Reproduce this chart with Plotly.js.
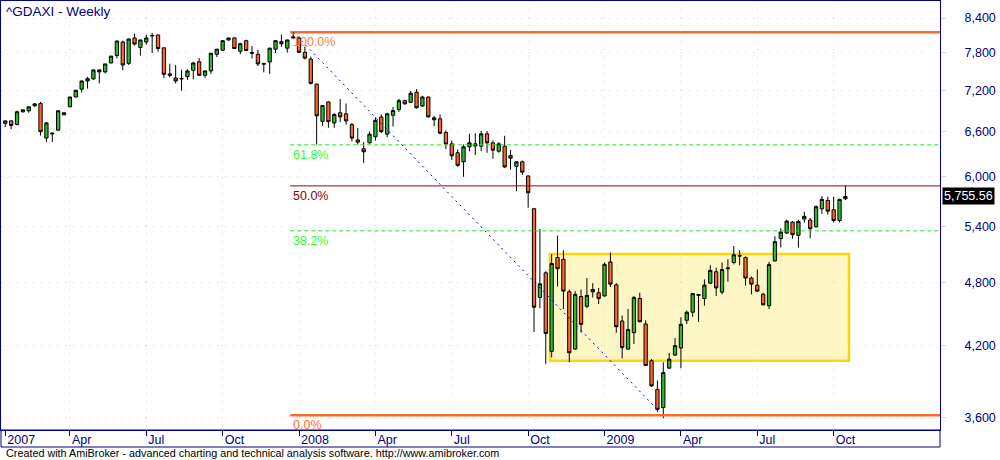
<!DOCTYPE html>
<html><head><meta charset="utf-8">
<script src="https://cdn.plot.ly/plotly-3.0.1.min.js"></script>
<style>html,body{margin:0;padding:0;background:#fff}#chart{width:1000px;height:460px}</style>
</head><body><div id="chart"></div>
<script>
// ---- data (weekly bars, first bar week ending 2007-01-19) ----
const START_DATE = '2007-01-19';
const OPEN = [
6720,6755,6705,6886,6901,6974,7007,6514,6570,6623,
6842,6959,7105,7224,7351,7383,7525,7494,7637,7757,
7983,7630,8052,7891,7983,8085,8103,7886,7462,7398,
7390,7419,7519,7657,7440,7509,7779,7846,8018,8052,
7829,8006,7795,7779,7618,7652,7863,7989,7880,8055,
8052,7812,7700,7303,6749,7032,6726,6872,6857,6701,
6488,6367,6448,6532,6810,6568,6836,6920,7051,7026,
7178,6971,7105,6799,6784,6592,6434,6314,6194,6394,
6434,6402,6572,6448,6335,6402,6278,6135,6194,6011,
5608,4647,4896,4146,5058,5039,4704,4166,4656,4561,
4726,4694,4662,5010,4773,4421,4166,4313,4637,4393,
4064,3825,3680,4001,4113,4175,4428,4504,4668,4637,
4790,4907,4700,4938,5004,5072,5058,4842,4770,4678,
4567,5021,5265,5327,5451,5301,5487,5475,5398,5608,
5708,5596,5470,5728];
const HIGH = [
6759,6763,6905,6920,6963,7007,7032,6740,6595,6905,
6876,7109,7213,7356,7414,7530,7530,7625,7752,8006,
8006,8040,8126,8023,8109,8138,8109,7886,7625,7605,
7530,7535,7657,7716,7519,7800,7869,8010,8057,8060,
7971,8023,7914,7851,7641,7886,8012,8109,8023,8152,
8079,7908,7741,7308,6985,7041,6869,7076,7007,6726,
6653,6458,6603,6807,6847,6872,6956,7080,7066,7197,
7224,7124,7109,6825,6847,6620,6478,6358,6425,6572,
6581,6612,6612,6482,6456,6545,6349,6202,6211,6020,
5615,5373,4913,5093,5298,5136,4726,4710,4726,4842,
4790,4742,5004,5111,4790,4472,4535,4662,4694,4428,
4078,3897,4051,4133,4265,4456,4520,4692,4678,4828,
4975,4950,5004,5039,5182,5136,5068,4859,4931,4694,
5010,5290,5381,5479,5463,5479,5572,5499,5648,5760,
5753,5753,5728,5890];
const LOW = [
6667,6638,6690,6876,6872,6959,6549,6461,6461,6620,
6839,6956,7102,7172,7233,7371,7313,7471,7633,7710,
7519,7605,7925,7757,7937,7800,7822,7398,7408,7313,
7202,7367,7376,7435,7398,7462,7733,7834,8006,7869,
7779,7834,7710,7589,7487,7462,7795,7903,7805,8040,
7800,7694,7297,6425,6685,6657,6657,6737,6701,6469,
6425,6180,6438,6478,6581,6525,6676,6886,6993,7017,
6934,6959,6803,6679,6565,6365,6218,6130,6001,6335,
6284,6335,6314,6234,6314,6114,6091,5820,6024,5620,
4319,4542,4037,4092,4757,4536,4051,4160,4313,4542,
4647,4583,4656,4751,4313,4084,4160,4211,4409,4018,
3845,3647,3598,3995,4105,4001,4393,4460,4412,4567,
4783,4662,4678,4805,4985,4975,4764,4678,4700,4567,
4535,5014,5165,5319,5262,5165,5446,5268,5390,5547,
5539,5446,5446,5712];
const CLOSE = [
6755,6690,6886,6915,6959,7003,6603,6726,6580,6901,
6872,7105,7208,7351,7387,7525,7494,7621,7748,8001,
7605,8035,7949,8018,8052,8095,7874,7456,7440,7351,
7385,7509,7637,7440,7509,7795,7863,8006,8052,7874,
7954,7840,7805,7621,7625,7880,8006,7954,8018,8067,
7812,7716,7313,6828,6978,6744,6847,6813,6755,6514,
6458,6327,6568,6763,6603,6857,6905,7051,7003,7163,
6945,7105,6813,6771,6581,6432,6274,6148,6394,6448,
6405,6572,6448,6349,6434,6127,6242,6194,6060,5801,
4552,4783,4306,4993,4939,4710,4133,4678,4390,4668,
4704,4637,4985,4780,4368,4179,4342,4647,4414,4023,
3853,3666,3963,4078,4196,4390,4504,4685,4676,4770,
4921,4742,4931,4946,5086,5078,4842,4780,4710,4576,
4982,5230,5338,5463,5308,5458,5518,5376,5632,5720,
5579,5470,5720,5755.56];
const TICK_DATES = ['2007-01-19','2007-04-06','2007-07-06','2007-10-05','2008-01-04','2008-04-04',
                    '2008-07-04','2008-10-03','2009-01-02','2009-04-03','2009-07-03','2009-10-02'];
const TICK_LABELS = ['2007','Apr','Jul','Oct','2008','Apr','Jul','Oct','2009','Apr','Jul','Oct'];
const PRICE_TICKS = [3600,4200,4800,5400,6000,6600,7200,7800,8400];
const FIB_HIGH = 8152, FIB_LOW = 3620;
const FIB_RATIOS = [1, 0.618, 0.5, 0.382, 0];
const FIB_LABELS = ['100.0%','61.8%','50.0%','38.2%','0.0%'];
const BOX_TOP = 5095, BOX_BOTTOM = 4065;
const TREND_END = 3660;

// ---- helpers ----
const WEEK = 7*86400000;
const T0 = Date.parse(START_DATE + 'T00:00:00Z');
const barTime = b => T0 + b*WEEK;
const dates = OPEN.map((_, i) => new Date(barTime(i)).toISOString().slice(0,10));

const GREEN = '#2EB82E', ORANGE = '#FF6428', NAVY = '#000080';
const FONT = 'Liberation Sans, Arial, sans-serif';
const FIB_COLORS = ['#FF6A2A','#22E622','#990000','#22E622','#FF6A2A'];
const FIB_TEXT = ['#FF7F40','#33FF33','#8B0000','#33FF33','#FF6A2A'];
const FIB_WIDTH = [2.5,1,1,1,2.5];
const FIB_DASH = ['solid','4px,3px','solid','4px,3px','solid'];

const traces = [];
traces.push({
  type:'candlestick', x:dates, open:OPEN, high:HIGH, low:LOW, close:CLOSE,
  increasing:{line:{color:'#000', width:1}, fillcolor:GREEN},
  decreasing:{line:{color:'#000', width:1}, fillcolor:ORANGE},
  whiskerwidth:0, hoverinfo:'skip', showlegend:false
});
const fibX0 = barTime(48.5), fibX1 = barTime(170);
const fibAnn = [];
FIB_RATIOS.forEach((r, k) => {
  const lvl = FIB_LOW + r*(FIB_HIGH - FIB_LOW);
  traces.push({type:'scatter', mode:'lines', x:[fibX0, fibX1], y:[lvl, lvl],
    line:{color:FIB_COLORS[k], width:FIB_WIDTH[k], dash:FIB_DASH[k]}, hoverinfo:'skip', showlegend:false});
  fibAnn.push({xref:'x', yref:'y', x:fibX0, y:Math.log10(lvl), xanchor:'left', yanchor:'top',
    xshift:1, yshift:-1, text:FIB_LABELS[k], showarrow:false,
    font:{family:FONT, size:12.5, color:FIB_TEXT[k]}});
});
traces.push({type:'scatter', mode:'lines', x:[barTime(49), barTime(111.1)], y:[FIB_HIGH, TREND_END],
  line:{color:'#0000FF', width:1, dash:'2px,4px'}, hoverinfo:'skip', showlegend:false});

const last = CLOSE[CLOSE.length-1];
const lastTxt = last.toLocaleString('en-US', {minimumFractionDigits:2, maximumFractionDigits:2});

const layout = {
  width:1000, height:460,
  margin:{l:1, r:60, t:1, b:30},
  paper_bgcolor:'#fff', plot_bgcolor:'#fff',
  showlegend:false, boxgap:0.2,
  font:{family:FONT, size:12, color:NAVY},
  xaxis:{type:'date', range:[barTime(-0.73), barTime(159.1)], rangeslider:{visible:false},
    tickmode:'array', tickvals:TICK_DATES, ticktext:TICK_LABELS,
    ticks:'outside', ticklen:5, tickcolor:NAVY, tickwidth:1,
    ticklabelposition:'outside right', ticklabelshift:1, ticklabelstandoff:-2,
    tickfont:{size:12.5, color:NAVY},
    showgrid:true, gridcolor:'#FFC4CC', griddash:'1px,7px', gridwidth:1,
    showline:true, mirror:true, linecolor:NAVY, linewidth:1, zeroline:false, fixedrange:true},
  yaxis:{type:'log', side:'right', range:[3.54525, 3.93992],
    tickmode:'array', tickvals:PRICE_TICKS, tickformat:',d',
    ticks:'outside', ticklen:5, tickcolor:'#FFC4CC', ticklabelstandoff:16,
    tickfont:{size:12.5, color:NAVY},
    showgrid:true, gridcolor:'#FFC4CC', griddash:'1px,7px', gridwidth:1,
    showline:true, mirror:true, linecolor:NAVY, linewidth:1, zeroline:false, fixedrange:true},
  shapes:[
    {type:'rect', xref:'x', yref:'y', x0:barTime(92.7), x1:barTime(143.6), y0:BOX_BOTTOM, y1:BOX_TOP,
     fillcolor:'#FFF6C6', line:{color:'#FFD700', width:2.5}, layer:'below'},
    {type:'rect', xref:'paper', yref:'paper', x0:0, x1:1, y0:-17/429, y1:0,
     line:{color:NAVY, width:1}, fillcolor:'rgba(0,0,0,0)'}
  ],
  annotations:fibAnn.concat([
    {xref:'paper', yref:'paper', x:0, y:1, xanchor:'left', yanchor:'top', xshift:3, yshift:-1,
     text:'^GDAXI - Weekly', showarrow:false, font:{size:13.5, color:NAVY}},
    {xref:'paper', yref:'paper', x:0, y:-23/429, xanchor:'left', yanchor:'middle', xshift:3,
     text:'Created with AmiBroker - advanced charting and technical analysis software. http://www.amibroker.com',
     showarrow:false, font:{size:10.8, color:'#000'}},
    {xref:'paper', yref:'y', x:1, y:Math.log10(last), xanchor:'left', yanchor:'middle', xshift:2,
     text:lastTxt, showarrow:false, bgcolor:'#000', borderpad:1, font:{size:12.5, color:'#fff'}}
  ])
};
Plotly.newPlot('chart', traces, layout, {staticPlot:true, displayModeBar:false});
</script></body></html>
